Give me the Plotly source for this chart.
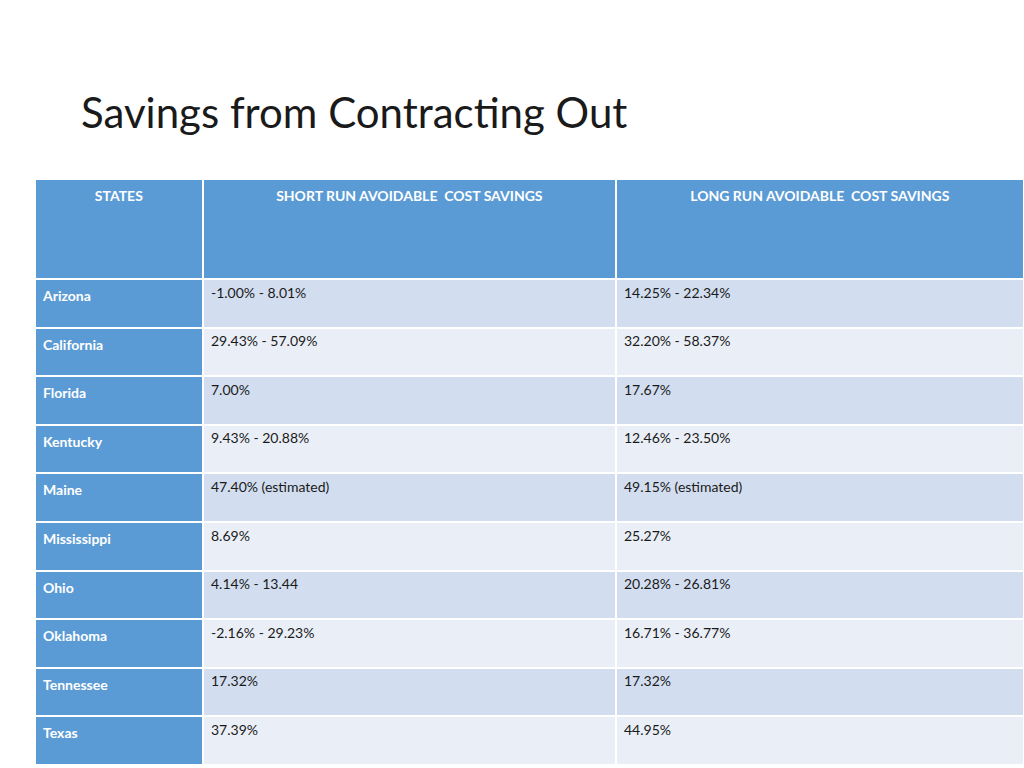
import plotly.graph_objects as go

headers = ["STATES", "SHORT RUN AVOIDABLE  COST SAVINGS", "LONG RUN AVOIDABLE  COST SAVINGS"]
states = ["Arizona", "California", "Florida", "Kentucky", "Maine", "Mississippi",
          "Ohio", "Oklahoma", "Tennessee", "Texas"]
short_run = ["-1.00% - 8.01%", "29.43% - 57.09%", "7.00%", "9.43% - 20.88%",
             "47.40% (estimated)", "8.69%", "4.14% - 13.44", "-2.16% - 29.23%",
             "17.32%", "37.39%"]
long_run = ["14.25% - 22.34%", "32.20% - 58.37%", "17.67%", "12.46% - 23.50%",
            "49.15% (estimated)", "25.27%", "20.28% - 26.81%", "16.71% - 36.77%",
            "17.32%", "44.95%"]

W, H = 1024, 768
blue = "#5B9BD5"
odd = "#D2DEEF"
even = "#EAEFF7"
row_fill = [odd if i % 2 == 0 else even for i in range(len(states))]

FONT = "Lato, 'Open Sans', sans-serif"

fig = go.Figure(go.Table(
    domain=dict(x=[35 / W, 1.0], y=[0, 1 - 179 / H]),
    columnwidth=[168, 413, 408],
    header=dict(
        values=[f"<b>{h}</b>" for h in headers],
        fill_color=blue,
        line=dict(color="white", width=2),
        align="center",
        font=dict(family=FONT, size=14, color="white"),
        height=100,
    ),
    cells=dict(
        values=[[f"<b>{s}</b>" for s in states], short_run, long_run],
        fill_color=[[blue] * len(states), row_fill, row_fill],
        line=dict(color="white", width=2),
        align="left",
        font=dict(family=FONT, size=14, color=["white", "#1a1a1a", "#1a1a1a"]),
        height=48.6,
    ),
))

fig.add_annotation(
    text="Savings from Contracting Out",
    x=79 / W, y=1 - 112 / H, xref="paper", yref="paper",
    xanchor="left", yanchor="middle", showarrow=False,
    font=dict(family=FONT, size=42, color="#1a1a1a"),
)

fig.update_layout(
    width=W, height=H,
    margin=dict(l=0, r=0, t=0, b=0),
    paper_bgcolor="white",
    plot_bgcolor="white",
)

fig.write_html("out.html", config={"displayModeBar": False},
               post_script="document.body.style.margin='0';")
